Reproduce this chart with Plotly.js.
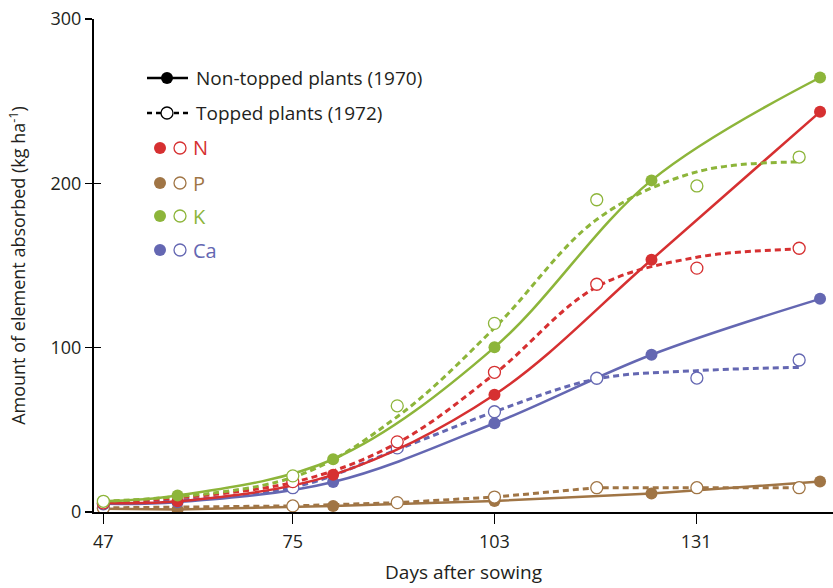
<!DOCTYPE html>
<html>
<head>
<meta charset="utf-8">
<script src="https://cdn.plot.ly/plotly-3.0.1.min.js"></script>
<style>html,body{margin:0;padding:0;background:#fff;}#chart{width:833px;height:588px;}</style>
</head>
<body>
<div id="chart"></div>
<script>
// ---- Data ----
const nonToppedDays = [48.7, 59, 80.6, 103, 124.8, 148.2];
const toppedDays    = [48.7, 75, 89.5, 103, 117.2, 131.1, 145.3];

const nNonTopped  = [5.5, 6.5, 22.6, 71.3, 153.5, 243.5];
const pNonTopped  = [2, 1.5, 3.7, 6.7, 11.2, 18.5];
const kNonTopped  = [6.5, 10, 32.1, 100.2, 201.8, 264.4];
const caNonTopped = [5, 6, 18.3, 54, 95.7, 129.7];

const nTopped  = [5.5, 18.5, 42.7, 85, 138.6, 148.4, 160.5];
const pTopped  = [2.5, 3.7, 5.7, 9.1, 14.8, 14.8, 14.8];
const kTopped  = [6.5, 22, 64.6, 114.8, 190, 198.4, 216];
const caTopped = [5, 14.8, 39, 61, 81.4, 81.5, 92.5];

// fitted (smoothed) curves for topped plants, as drawn in the figure
const nToppedFit  = [5.5, 18, 42, 84, 137, 155, 160];
const pToppedFit  = [2.5, 3.7, 5.7, 9.1, 14.8, 14.8, 14.8];
const kToppedFit  = [6.5, 21, 58, 112, 178, 207, 213];
const caToppedFit = [5, 15, 38, 61, 81, 86, 88];

const elements = ['N', 'P', 'K', 'Ca'];
const legendRows = ['Non-topped plants (1970)', 'Topped plants (1972)'];
const tickVals = [48.7, 75, 103, 131];
const tickText = ['47', '75', '103', '131'];
const yTicks = [0, 100, 200, 300];
const xTitle = 'Days after sowing';
const yTitle = 'Amount of element absorbed (kg ha<sup>-1</sup>)';

// ---- Styles ----
const colors = {N: '#d63031', P: '#a07545', K: '#8db53a', Ca: '#6467b2'};
const FONT = 'Open Sans, Noto Sans, sans-serif';
const TXT = '#231f20';

const series = {
  N:  {non: nNonTopped,  top: nTopped,  fit: nToppedFit,  shape: 'spline'},
  P:  {non: pNonTopped,  top: pTopped,  fit: pToppedFit,  shape: 'linear'},
  K:  {non: kNonTopped,  top: kTopped,  fit: kToppedFit,  shape: 'spline'},
  Ca: {non: caNonTopped, top: caTopped, fit: caToppedFit, shape: 'spline'}
};

const traces = [];
['P', 'Ca', 'N', 'K'].forEach(el => {
  const s = series[el], c = colors[el];
  traces.push({x: toppedDays, y: s.fit, mode: 'lines', type: 'scatter',
    line: {color: c, width: 3, dash: '6px,4px', shape: s.shape, smoothing: 1},
    hoverinfo: 'skip', showlegend: false});
  traces.push({x: nonToppedDays, y: s.non, mode: 'lines+markers', type: 'scatter',
    line: {color: c, width: 2.5, shape: s.shape, smoothing: 1},
    marker: {color: c, size: 12, line: {width: 0}}, showlegend: false, name: el + ' non-topped'});
  traces.push({x: toppedDays, y: s.top, mode: 'markers', type: 'scatter',
    marker: {color: '#ffffff', size: 12, line: {color: c, width: 1.3}}, showlegend: false, name: el + ' topped'});
});

// ---- Pixel helpers for the hand-drawn legend ----
const L = 94, R = 833, T = 19, B = 512;
const px = v => (v - L) / (R - L);
const py = v => (B - v) / (B - T);

const shapes = [];
const annotations = [];
function dot(x, y, fill, line) {
  shapes.push({type: 'circle', xref: 'paper', yref: 'paper', xsizemode: 'pixel', ysizemode: 'pixel',
    xanchor: px(x), yanchor: py(y), x0: -6, x1: 6, y0: -6, y1: 6,
    fillcolor: fill, line: {color: line, width: fill === '#ffffff' ? 1.3 : 0}});
}
// row 1 & 2
shapes.push({type: 'line', xref: 'paper', yref: 'paper', x0: px(147), x1: px(188), y0: py(78), y1: py(78),
  line: {color: '#000', width: 2.5}});
dot(167, 78, '#000000', '#000000');
shapes.push({type: 'line', xref: 'paper', yref: 'paper', x0: px(147), x1: px(188), y0: py(113), y1: py(113),
  line: {color: '#000', width: 2.5, dash: '5px,4px'}});
dot(167, 113, '#ffffff', '#000000');
[78, 113].forEach((y, i) => annotations.push({xref: 'paper', yref: 'paper', x: px(194), y: py(y),
  xanchor: 'left', yanchor: 'middle', showarrow: false, text: legendRows[i],
  font: {family: FONT, size: 19, color: TXT}}));
const rowY = [148, 183, 216, 250];
elements.forEach((el, i) => {
  dot(160, rowY[i], colors[el], colors[el]);
  dot(180, rowY[i], '#ffffff', colors[el]);
  annotations.push({xref: 'paper', yref: 'paper', x: px(191), y: py(rowY[i]),
    xanchor: 'left', yanchor: 'middle', showarrow: false, text: el,
    font: {family: FONT, size: 20, color: colors[el]}});
});

const layout = {
  width: 833, height: 588,
  margin: {l: L, r: 833 - R, t: T, b: 588 - B},
  paper_bgcolor: '#fff', plot_bgcolor: '#fff',
  font: {family: FONT, size: 18, color: TXT},
  showlegend: false,
  xaxis: {range: [47.4, 150], tickvals: tickVals, ticktext: tickText,
    showgrid: false, zeroline: false, showline: true, linecolor: '#000', linewidth: 2,
    ticks: 'outside', ticklen: 10, tickwidth: 1.3, tickcolor: '#000', ticklabelstandoff: 2,
    tickfont: {family: FONT, size: 18, color: TXT},
    title: {text: xTitle, font: {family: FONT, size: 19, color: TXT}, standoff: 14}},
  yaxis: {range: [0, 300], tickvals: yTicks, showgrid: false, zeroline: false,
    showline: true, linecolor: '#000', linewidth: 2,
    ticks: 'outside', ticklen: 7, tickwidth: 1.3, tickcolor: '#000',
    tickfont: {family: FONT, size: 18, color: TXT},
    title: {text: yTitle, font: {family: FONT, size: 18, color: TXT}, standoff: 20}},
  yaxis2: {range: [0, 300], overlaying: 'y', tickvals: yTicks, showticklabels: false,
    showgrid: false, zeroline: false, showline: false,
    ticks: 'inside', ticklen: 7, tickwidth: 1.3, tickcolor: '#000'},
  shapes: shapes,
  annotations: annotations
};
traces.push({x: [50], y: [0], yaxis: 'y2', mode: 'markers', marker: {opacity: 0}, hoverinfo: 'skip', showlegend: false});

Plotly.newPlot('chart', traces, layout, {displayModeBar: false, staticPlot: true});
</script>
</body>
</html>
